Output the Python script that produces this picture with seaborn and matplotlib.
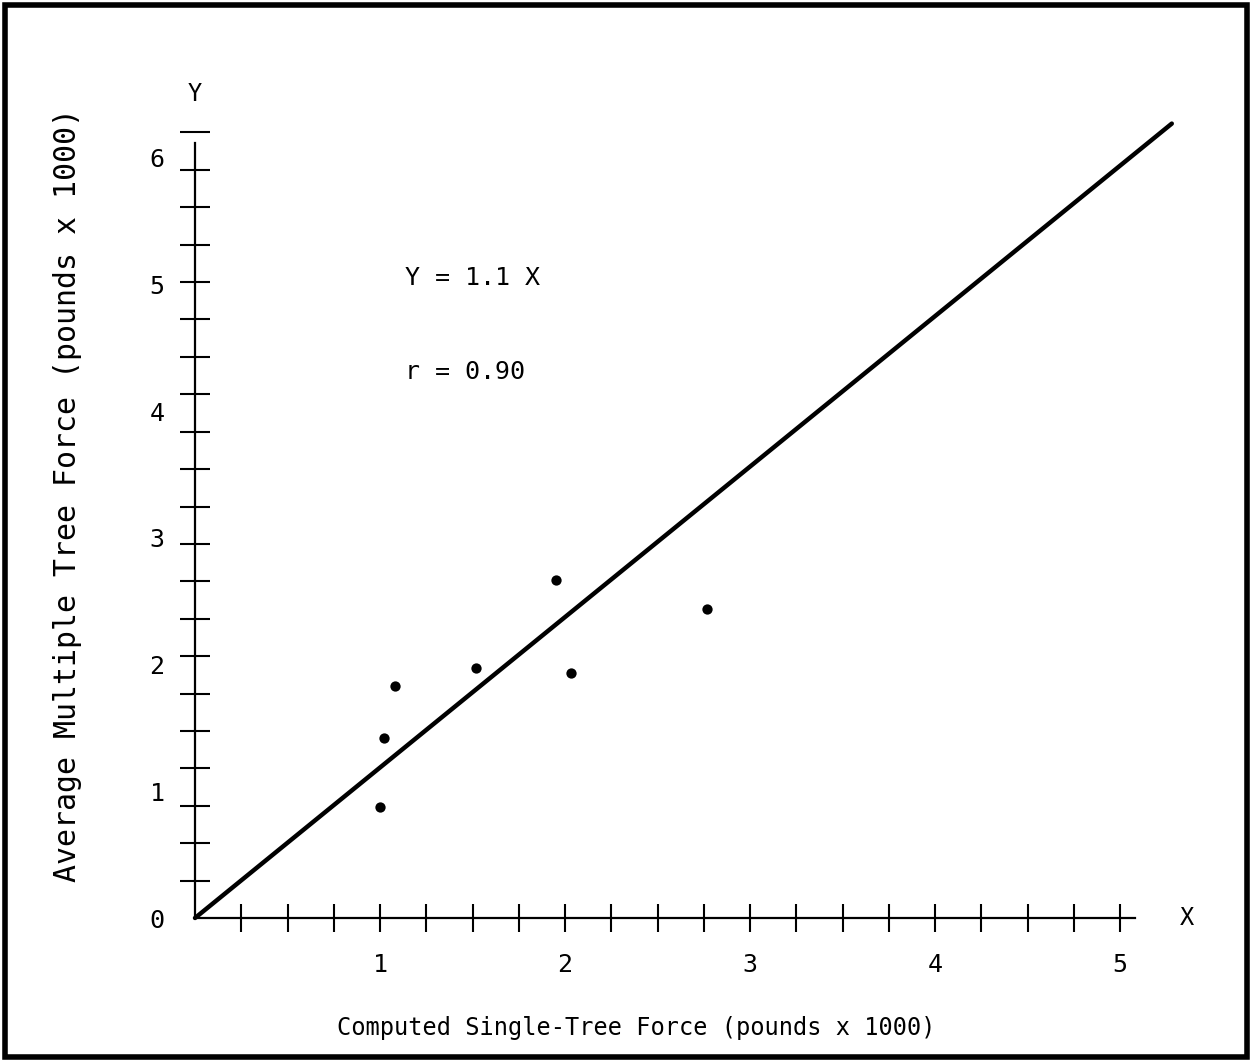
import numpy as np
import matplotlib
matplotlib.use('Agg')
import matplotlib.pyplot as plt
import seaborn as sns
from matplotlib.patches import Rectangle

# Values (thousands of pounds)
single_tree_force = [1.00, 1.02, 1.08, 1.52, 1.95, 2.03, 2.77]
multi_tree_force = [0.88, 1.42, 1.83, 1.97, 2.67, 1.93, 2.44]

# Fitted line as drawn in the figure
fit_x = [0.0, 5.28]
fit_y = [0.0, 6.27]

x_tick_labels = ['1', '2', '3', '4', '5']
y_tick_labels = ['0', '1', '2', '3', '4', '5', '6']

sns.set_style('white')
plt.rcParams['font.family'] = ['DejaVu Sans Mono']
plt.rcParams['text.color'] = 'black'
plt.rcParams['axes.edgecolor'] = 'black'
plt.rcParams['xtick.color'] = 'black'
plt.rcParams['ytick.color'] = 'black'

fig = plt.figure(figsize=(12.51, 10.61), dpi=100)
ax = fig.add_axes([195 / 1251, 143 / 1061, 5.6 * 185 / 1251, 6.5 * 126.7 / 1061])

# Regression line and data points
sns.lineplot(x=fit_x, y=fit_y, ax=ax, color='black', linewidth=3.2, clip_on=False)
sns.scatterplot(x=single_tree_force, y=multi_tree_force, ax=ax, color='black',
                s=55, edgecolor='black', linewidth=0, zorder=5)

ax.set_xlim(0, 5.6)
ax.set_ylim(0, 6.5)

# Axes drawn like the hand-lettered original
for side in ['top', 'right']:
    ax.spines[side].set_visible(False)
ax.spines['left'].set_linewidth(1.6)
ax.spines['bottom'].set_linewidth(1.6)
ax.spines['left'].set_bounds(0, 6.12)
ax.spines['bottom'].set_bounds(0, 5.08)

ax.set_xticks(range(1, 6))
ax.set_xticklabels(x_tick_labels)
ax.set_xticks(np.arange(0.25, 5.01, 0.25), minor=True)
ax.tick_params(axis='x', which='both', bottom=True, direction='inout', length=20,
               width=1.5, color='black', labelsize=18, pad=15)

ax.set_yticks(range(7))
ax.set_yticklabels(y_tick_labels)
ax.set_yticks(np.arange(1, 22) * 6.2 / 21, minor=True)
ax.tick_params(axis='y', which='major', left=True, length=0, labelsize=18, pad=22)
ax.tick_params(axis='y', which='minor', left=True, direction='inout', length=21,
               width=1.5, color='black')

# Axis letters and annotations
ax.text(0.0, 6.5, 'Y', ha='center', va='center', fontsize=17, clip_on=False)
ax.text(5.36, 0.0, 'X', ha='center', va='center', fontsize=17, clip_on=False)
ax.text(1.135, 5.05, 'Y = 1.1 X', ha='left', va='center', fontsize=18)
ax.text(1.135, 4.31, 'r = 0.90', ha='left', va='center', fontsize=18)

fig.text(636 / 1251, 1 - 1028 / 1061, 'Computed Single-Tree Force (pounds x 1000)',
         ha='center', va='center', fontsize=17)
fig.text(68 / 1251, 1 - 495 / 1061, 'Average Multiple Tree Force (pounds x 1000)',
         ha='center', va='center', fontsize=21.5, rotation=90)

# Frame around the whole figure
fig.patches.append(Rectangle((0.004, 0.004), 0.993, 0.991, transform=fig.transFigure,
                             fill=False, edgecolor='black', linewidth=4))

fig.savefig('out.png', dpi=100, facecolor='white')
